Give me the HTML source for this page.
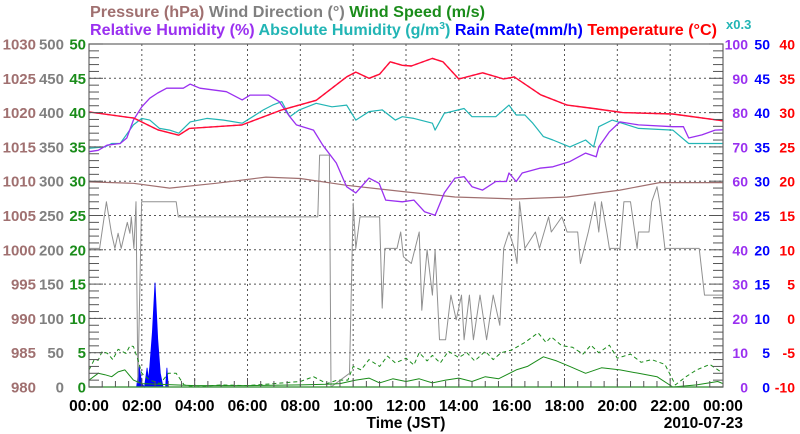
<!DOCTYPE html>
<html><head><meta charset="utf-8">
<style>
html,body{margin:0;padding:0;background:#fff;}
svg{display:block;font-family:"Liberation Sans",sans-serif;font-weight:bold;}
</style></head>
<body>
<svg id="chart" width="800" height="434" viewBox="0 0 800 434" xmlns="http://www.w3.org/2000/svg">
<g font-size="15.5">
<text x="90" y="17" textLength="395" lengthAdjust="spacingAndGlyphs"><tspan fill="#a07070">Pressure (hPa)</tspan> <tspan fill="#808080">Wind Direction (°)</tspan> <tspan fill="#1a8c1a">Wind Speed (m/s)</tspan></text>
<text x="90" y="35" textLength="627" lengthAdjust="spacingAndGlyphs"><tspan fill="#9a30f0">Relative Humidity (%)</tspan> <tspan fill="#22b5b5">Absolute Humidity (g/m<tspan font-size="10" dy="-6">3</tspan><tspan dy="6">)</tspan></tspan> <tspan fill="#0000ff">Rain Rate(mm/h)</tspan> <tspan fill="#ff0000">Temperature (°C)</tspan></text>
<text x="726" y="29" font-size="13" fill="#22b5b5">x0.3</text>
</g>
<g id="grid"></g>
<g id="series"></g>
<g id="axes"></g>
<text x="406" y="428" text-anchor="middle" font-size="15.5">Time (JST)</text>
<text x="743" y="428" text-anchor="end" font-size="15.5">2010-07-23</text>
</svg>
<script>
const hourTicks = ["00:00","02:00","04:00","06:00","08:00","10:00","12:00","14:00","16:00","18:00","20:00","22:00","00:00"];
const pressureTicks = [980,985,990,995,1000,1005,1010,1015,1020,1025,1030];
const windDirTicks = [0,50,100,150,200,250,300,350,400,450,500];
const windSpdTicks = [0,5,10,15,20,25,30,35,40,45,50];
const rhTicks = [0,10,20,30,40,50,60,70,80,90,100];
const rainTicks = [0,5,10,15,20,25,30,35,40,45,50];
const tempTicks = [-10,-5,0,5,10,15,20,25,30,35,40];

const tempT = [0,1.7,2.6,3.4,3.8,5.8,7.3,8.6,9.75,10.1,10.6,11,11.4,11.86,12.2,13,13.4,14,14.9,15.7,16.1,17.1,18.1,19.1,20.2,22.1,24];
const tempV = [30.1,29.2,27.5,26.7,27.7,28.2,30.4,31.8,35.2,35.9,35,35.6,37.4,36.9,36.8,37.9,37.4,34.9,35.8,34.9,35.2,32.6,31.1,30.6,30.0,29.8,28.8];

const rhT = [0,0.35,0.68,1.18,1.43,1.68,2.0,2.3,2.6,2.94,3.57,3.83,4.2,5.2,5.8,6.1,6.8,7.2,7.6,7.85,8.5,8.85,9.36,9.75,10.1,10.6,10.98,11.23,11.86,12.3,12.7,13.1,13.45,13.85,14.2,14.5,14.9,15.4,15.8,15.9,16.17,16.4,17.06,17.56,18.2,18.8,19.2,19.3,19.7,20.1,20.8,22.1,22.5,22.7,23.2,23.7,24];
const rhV = [68.6,69,70.5,71,72.6,77.8,81.7,84.2,85.7,87.1,87.1,88.3,87.1,86.1,83.7,85.1,85.1,83.2,78.8,76.4,74.9,70.5,65.3,58.4,56.6,60.9,59.4,54.5,54,54.5,51.1,50.1,56.6,60.9,61.3,58.4,57.4,59.9,59.9,62.4,59.9,62.4,63.8,64.2,65.7,68.2,67.1,70,74.4,77.3,76.4,75.9,75.9,72.6,73.5,74.9,75];

const ahT = [0,0.6,0.86,1.18,1.68,2,2.3,2.67,3.05,3.4,3.83,4.46,5.1,5.8,6.3,6.6,6.95,7.3,7.6,7.96,8.6,9.2,9.75,10.1,10.6,11.1,11.6,11.86,12.3,13,13.1,13.45,14.2,14.5,15.4,15.9,16.17,16.5,16.8,17.2,17.56,18.2,18.8,19.1,19.3,19.8,20.8,22.1,22.7,24];
const ahV = [69.6,70,71,71,76.4,78.3,77.8,75.4,74.9,74,77.3,78.3,77.8,76.9,79.3,80.8,82.2,83.2,78.8,80.8,82.7,81.7,82.2,77.8,80.3,80.8,77.8,78.8,78.3,76.9,74.9,79.8,81.2,78.8,78.8,82.2,79.3,79.3,76.9,73,72,70,72,70,75.9,77.8,75.4,74.9,71,71];

const presT = [0,1.68,3.05,4.8,6.7,8,9.75,11.86,13.85,16.17,18.1,20.1,21.6,24];
const presV = [1009.9,1009.7,1009.0,1009.7,1010.6,1010.4,1009.4,1008.5,1007.7,1007.4,1007.7,1008.7,1009.8,1009.8];

const wdT = [0,0.4,0.66,0.85,0.98,1.1,1.22,1.35,1.45,1.55,1.6,1.7,1.78,1.85,1.99,3.3,3.38,8.66,8.73,9.1,9.16,9.86,10,10.1,10.26,11,11.1,11.2,11.66,11.8,11.9,12.2,12.5,12.6,12.8,13,13.1,13.27,13.5,13.7,13.9,14.1,14.2,14.4,14.55,14.8,15.05,15.3,15.55,15.7,15.9,16.1,16.2,16.3,16.5,16.9,17.05,17.4,17.5,17.9,18.1,18.5,18.6,18.9,19.15,19.3,19.4,19.6,19.7,20.1,20.25,20.5,20.75,20.8,21.2,21.3,21.5,21.6,21.8,23.1,23.3,24];
const wdV = [202,202,270,224,202,224,202,224,240,224,248,202,270,6,270,270,248,248,338,338,0,20,268,202,248,248,115,202,202,226,190,180,226,112,200,134,200,69,69,134,98,134,69,134,69,134,69,134,90,202,226,202,180,270,202,226,202,248,226,248,226,226,180,226,270,226,270,226,202,202,270,270,202,226,226,270,292,270,202,202,134,134];

const wsT = [0,0.35,0.6,0.86,1.1,1.36,1.68,2,4,6,8,9,9.5,10.1,10.6,11,11.5,12,12.5,13,13.5,14,14.5,15,15.5,16.17,16.6,17.2,17.7,18.2,18.8,19.4,20.1,20.8,21.5,22.1,23,23.8,24];
const wsV = [1,2,1.8,1.5,2.2,2.5,1,0.5,0.2,0.2,0.3,0.4,0.5,1,1.3,0.6,1.2,0.8,1.2,0.6,1,1.3,0.8,1.5,1.2,2.5,3,4.4,3.8,3,2,2.8,2.5,2,1.5,0,0.3,0.8,0.5];

const gustT = [0,0.2,0.35,0.5,0.7,0.9,1.1,1.4,1.55,1.68,1.85,2,2.3,2.7,3,3.3,3.6,4,5,6,7,8,8.5,9,9.4,9.8,10,10.3,10.6,11,11.3,11.6,12,12.3,12.5,12.8,13,13.3,13.6,14,14.3,14.6,15,15.3,15.6,16,16.5,17,17.3,17.5,17.9,18.3,18.7,19,19.3,19.7,20,20.5,20.9,21.3,21.8,22.2,22.6,23,23.5,24];
const gustV = [2.5,4,3.9,5.2,4.9,4,5.5,4.9,6,5.9,4,2,1,0.5,2,2,0.3,0,0.3,0.2,0.5,0.8,1.5,0.5,1,1,3,2.5,4,3,4.5,3.5,4.2,3.2,5,3.8,4.6,3.5,5.2,4.3,5,3.8,5.2,4,5,5.4,6.5,7.9,6.5,7.3,6,5.8,4.8,6.1,5,6.1,4.2,4.8,3.6,4,3.3,0.3,1.5,2.5,3.3,2];

const rainT = [1.8,1.9,2.0,2.1,2.2,2.25,2.3,2.4,2.5,2.6,2.7,2.8,2.9,2.95,3.0,3.1];
const rainV = [0,3,0.5,0,2.8,1,3,8,15.2,7,2,0,0,2.8,0,0];

const NS="http://www.w3.org/2000/svg";
const L=89,R=723,T=44,B=387;
const xs=h=>L+(R-L)*h/24;
const yScale=(min,max)=>v=>B-(B-T)*(v-min)/(max-min);
const yP=yScale(980,1030), yWD=yScale(0,500), yWS=yScale(0,50), yRH=yScale(0,100), yRain=yScale(0,50), yT=yScale(-10,40);
function mk(parent,tag,attrs){const e=document.createElementNS(NS,tag);for(const k in attrs)e.setAttribute(k,attrs[k]);parent.appendChild(e);return e;}
const grid=document.getElementById('grid'), ser=document.getElementById('series'), axes=document.getElementById('axes');

for(let i=1;i<12;i++){const x=xs(i*2);const l=mk(grid,'line',{x1:x,x2:x,y1:T,y2:B,stroke:'#555','stroke-width':1,'stroke-dasharray':'2,3'});

}
for(let i=1;i<10;i++){const y=yWS(i*5);const l=mk(grid,'line',{x1:L,x2:R,y1:y,y2:y,stroke:'#555','stroke-width':1,'stroke-dasharray':'2,3'});

}

function line(ts,vs,ys,color,name,w,dash){
  const d=ts.map((t,i)=>(i?'L':'M')+xs(t).toFixed(1)+','+ys(vs[i]).toFixed(1)).join('');
  const p=mk(ser,'path',{d:d,fill:'none',stroke:color,'stroke-width':w||1.2,'stroke-linejoin':'round'});
  if(dash)p.setAttribute('stroke-dasharray',dash);
  
  
  return p;
}
{const d='M'+xs(rainT[0])+','+B+rainT.map((t,i)=>'L'+xs(t).toFixed(1)+','+yRain(rainV[i]).toFixed(1)).join('')+'L'+xs(rainT[rainT.length-1])+','+B+'Z';
const p=mk(ser,'path',{d:d,fill:'#0000ff',stroke:'#0000ff','stroke-width':0.8});

}
line(wdT,wdV,yWD,'#909090','wind-direction-line',1);
line(gustT,gustV,yWS,'#1a8c1a','wind-gust-line',1,'4,3');
line(wsT,wsV,yWS,'#1a8c1a','wind-speed-line',1);
line(presT,presV,yP,'#a07070','pressure-line',1.2);
line(ahT,ahV,yRH,'#22b5b5','absolute-humidity-line',1.2);
line(rhT,rhV,yRH,'#9a30f0','relative-humidity-line',1.3);
line(tempT,tempV,yT,'#ff40ff','temperature-shadow-line',1.5,'3,3');
line(tempT,tempV,yT,'#ff1030','temperature-line',1.4);

{const f=mk(axes,'rect',{x:L,y:T,width:R-L,height:B-T,fill:'none',stroke:'#666','stroke-width':1.2});


const bl=mk(axes,'line',{x1:L,x2:R,y1:B,y2:B,stroke:'#3c9c3c','stroke-width':1.2});

}
for(let i=0;i<=50;i++){const y=T+(B-T)*i/50;const len=(i%5===0)?14:10;
 const a=mk(axes,'line',{x1:L,x2:L+len,y1:y,y2:y,stroke:'#555','stroke-width':1});
 
 
 const b=mk(axes,'line',{x1:R-len,x2:R,y1:y,y2:y,stroke:'#555','stroke-width':1});
 
 }
for(let i=1;i<48;i++){const x=xs(i/2);const a=mk(axes,'line',{x1:x,x2:x,y1:B,y2:B-(i%4===0?9:6),stroke:'#555','stroke-width':1});
 
 }

function label(x,y,txt,color,anchor,name,fs){const t=mk(axes,'text',{x:x,y:y,fill:color,'text-anchor':anchor,'font-size':fs||15.5});t.textContent=txt;
 
 }
pressureTicks.forEach(v=>label(36,yP(v)+5.5,v,'#a07070','end','pressure-tick-label',15));
windDirTicks.forEach(v=>label(64,yWD(v)+5.5,v,'#808080','end','wind-direction-tick-label',15));
windSpdTicks.forEach(v=>label(86,yWS(v)+5.5,v,'#1a8c1a','end','wind-speed-tick-label',15));
rhTicks.forEach(v=>label(748,yRH(v)+5.5,v,'#9a30f0','end','humidity-tick-label',14));
rainTicks.forEach(v=>label(770,yRain(v)+5.5,v,'#0000ff','end','rain-tick-label',14));
tempTicks.forEach(v=>label(795,yT(v)+5.5,v,'#ff0000','end','temperature-tick-label',14));
hourTicks.forEach((s,i)=>label(xs(i*2),411,s,'#000','middle','time-tick-label'));
</script>
</body></html>
